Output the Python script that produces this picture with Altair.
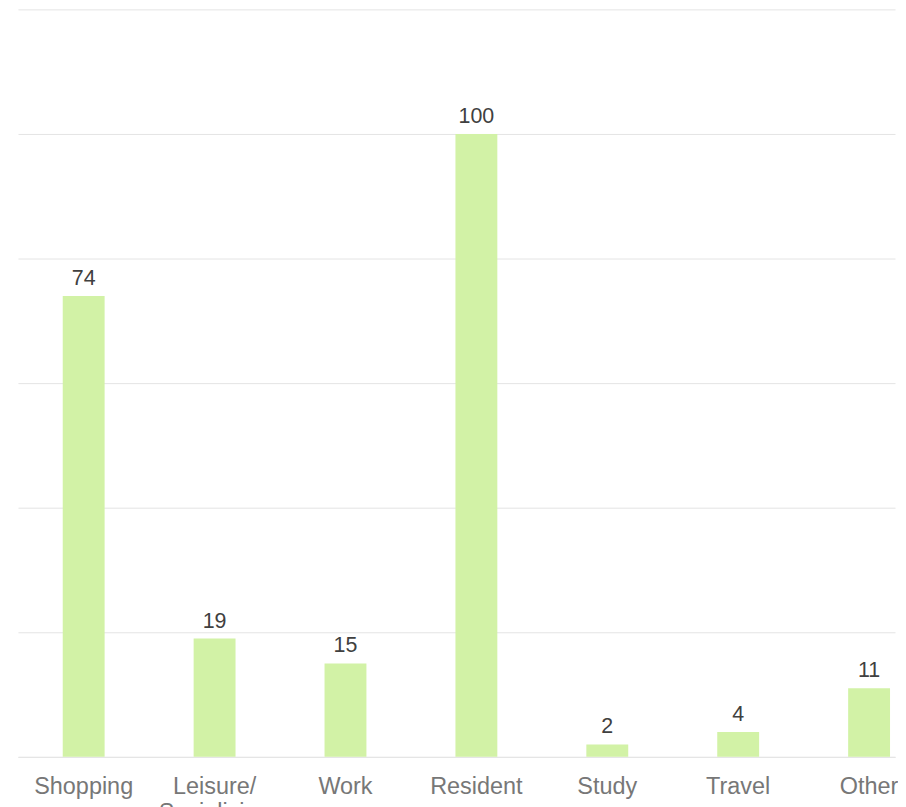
import altair as alt
import pandas as pd

categories = ["Shopping", "Leisure/|Socialising", "Work", "Resident", "Study", "Travel", "Other"]
values = [74, 19, 15, 100, 2, 4, 11]
y_ticks = [0, 20, 40, 60, 80, 100, 120]

df = pd.DataFrame({"category": categories, "value": values})

FONT = "Liberation Sans"

x = alt.X(
    "category:N",
    sort=categories,
    title=None,
    scale=alt.Scale(paddingInner=0.68, paddingOuter=0.19, align=0.9),
    axis=alt.Axis(
        labelExpr="split(datum.label, '|')",
        labelAngle=0,
        labelFont=FONT,
        labelFontSize=23.5,
        labelColor="#777777",
        labelPadding=18,
        labelLineHeight=26,
        ticks=False,
        domain=True,
        domainColor="#e4e4e4",
        labelOverlap=False,
        labelBound=False,
    ),
)
y = alt.Y(
    "value:Q",
    title=None,
    scale=alt.Scale(domain=[0, 120], nice=False),
    axis=alt.Axis(
        values=y_ticks,
        labels=False,
        ticks=False,
        domain=False,
        grid=True,
        gridColor="#e4e4e4",
        gridWidth=1,
    ),
)

bars = alt.Chart(df).mark_bar(color="#d2f2a6").encode(x=x, y=y)
text = alt.Chart(df).mark_text(
    baseline="alphabetic", dy=-11, font=FONT, fontSize=21.5, color="#404040"
).encode(x=x, y=y, text="value:Q")

chart = (
    alt.layer(bars, text)
    .properties(
        width=880,
        height=750,
        padding={"left": 10, "top": 0, "right": 0, "bottom": 0},
    )
    .configure_view(stroke=None)
)

chart.save("out.html", embed_options={"renderer": "svg", "actions": False})
